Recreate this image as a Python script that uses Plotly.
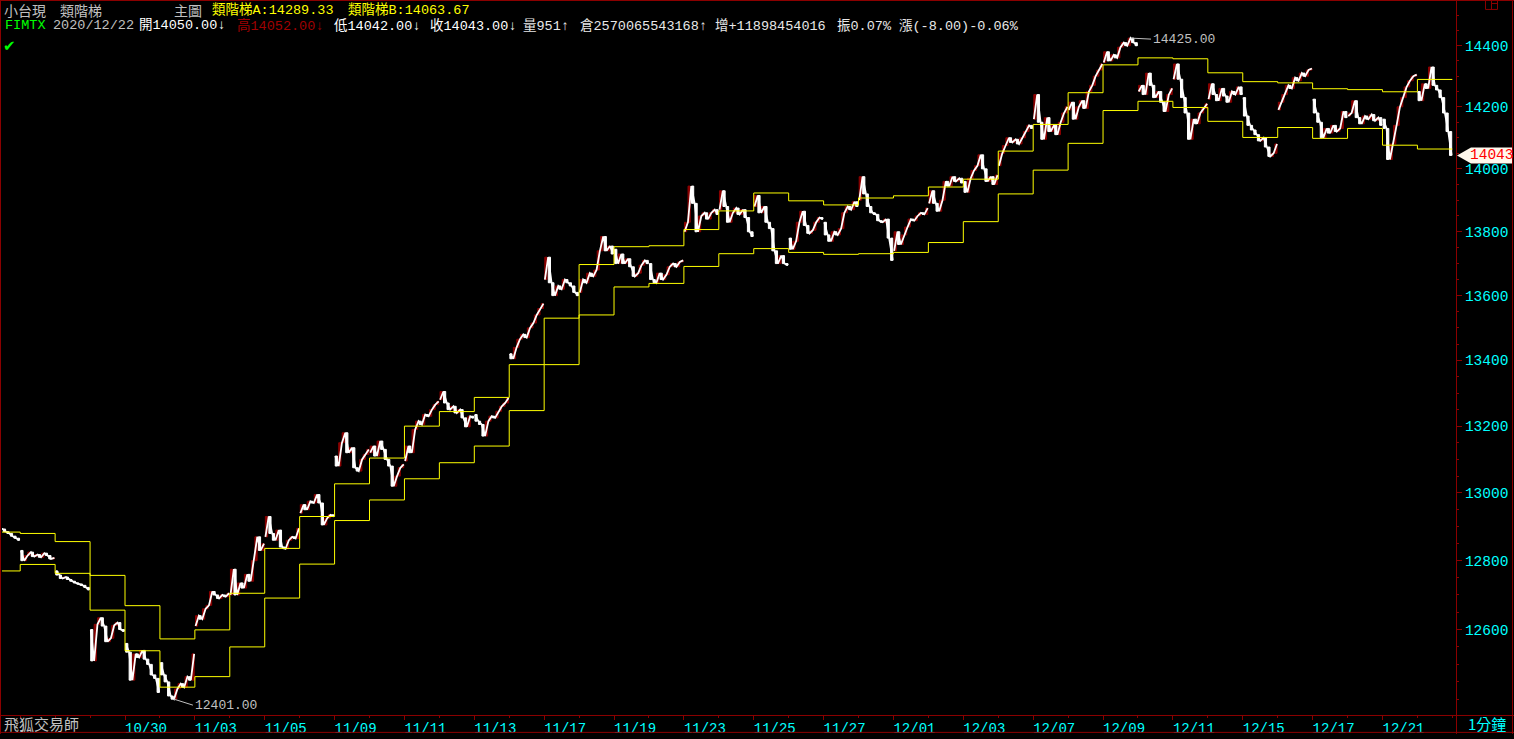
import numpy as np
import plotly.graph_objects as go

# ---------------- data ----------------
day_labels = ["10/26", "10/27", "10/28", "10/29", "10/30", "11/02", "11/03", "11/04", "11/05", "11/06",
              "11/09", "11/10", "11/11", "11/12", "11/13", "11/16", "11/17", "11/18", "11/19", "11/20",
              "11/23", "11/24", "11/25", "11/26", "11/27", "11/30", "12/01", "12/02", "12/03", "12/04",
              "12/07", "12/08", "12/09", "12/10", "12/11", "12/14", "12/15", "12/16", "12/17", "12/18",
              "12/21", "12/22"]

# price path within each trading day (sampled roughly every 30 minutes)
intraday_prices = [
    [12900, 12905, 12898, 12902, 12895, 12893, 12885, 12880, 12872, 12866, 12860],
    [12830, 12800, 12815, 12825, 12812, 12818, 12810, 12822, 12815, 12805, 12808],
    [12770, 12758, 12748, 12752, 12745, 12740, 12735, 12732, 12728, 12722, 12715],
    [12600, 12510, 12615, 12634, 12610, 12565, 12575, 12612, 12620, 12600, 12595],
    [12560, 12535, 12455, 12530, 12520, 12540, 12515, 12500, 12470, 12460, 12420],
    [12505, 12470, 12450, 12410, 12401, 12430, 12445, 12435, 12465, 12455, 12530],
    [12610, 12640, 12630, 12660, 12670, 12710, 12700, 12690, 12700, 12695, 12705],
    [12700, 12775, 12700, 12735, 12720, 12760, 12740, 12800, 12870, 12830, 12850],
    [12870, 12930, 12880, 12860, 12890, 12840, 12835, 12860, 12870, 12865, 12895],
    [12940, 12965, 12950, 12975, 12970, 12995, 12970, 12905, 12925, 12935, 12930],
    [13110, 13080, 13150, 13180, 13120, 13135, 13075, 13065, 13100, 13115, 13130],
    [13120, 13140, 13110, 13155, 13130, 13100, 13080, 13020, 13050, 13075, 13085],
    [13095, 13140, 13120, 13190, 13215, 13205, 13235, 13230, 13250, 13265, 13275],
    [13280, 13305, 13270, 13250, 13260, 13240, 13250, 13225, 13198, 13230, 13225],
    [13235, 13215, 13205, 13170, 13215, 13230, 13225, 13245, 13260, 13270, 13285],
    [13420, 13405, 13440, 13465, 13480, 13470, 13500, 13515, 13540, 13560, 13575],
    [13650, 13720, 13640, 13600, 13630, 13620, 13650, 13640, 13630, 13610, 13600],
    [13610, 13650, 13640, 13670, 13660, 13680, 13740, 13785, 13740, 13755, 13730],
    [13745, 13700, 13730, 13700, 13715, 13690, 13660, 13670, 13695, 13710, 13700],
    [13700, 13650, 13640, 13670, 13650, 13665, 13690, 13700, 13690, 13705, 13710],
    [13800, 13830, 13945, 13890, 13800, 13850, 13860, 13840, 13860, 13870, 13855],
    [13870, 13930, 13880, 13830, 13860, 13875, 13855, 13870, 13845, 13800, 13785],
    [13880, 13915, 13860, 13880, 13830, 13810, 13740, 13700, 13725, 13700, 13695],
    [13780, 13745, 13770, 13830, 13865, 13820, 13795, 13805, 13830, 13845, 13840],
    [13830, 13790, 13770, 13800, 13790, 13810, 13860, 13880, 13870, 13895, 13880],
    [13900, 13975, 13920, 13880, 13860, 13855, 13835, 13830, 13840, 13780, 13710],
    [13740, 13800, 13760, 13790, 13815, 13840, 13835, 13850, 13860, 13855, 13875],
    [13890, 13930, 13890, 13865, 13900, 13960, 13945, 13975, 13960, 13970, 13955],
    [13960, 13925, 13970, 13995, 14010, 14045, 14000, 13960, 13975, 13950, 13980],
    [14010, 14050, 14075, 14100, 14085, 14095, 14080, 14100, 14120, 14140, 14130],
    [14160, 14240, 14150, 14095, 14165, 14120, 14140, 14110, 14150, 14180, 14200],
    [14190, 14215, 14160, 14200, 14220, 14195, 14250, 14270, 14300, 14320, 14340],
    [14345, 14380, 14350, 14370, 14360, 14395, 14410, 14400, 14425, 14410, 14400],
    [14250, 14270, 14240, 14310, 14270, 14230, 14250, 14215, 14185, 14240, 14260],
    [14290, 14340, 14290, 14230, 14180, 14095, 14160, 14145, 14180, 14195, 14210],
    [14225, 14275, 14240, 14220, 14260, 14235, 14215, 14250, 14240, 14265, 14240],
    [14230, 14170, 14140, 14125, 14110, 14090, 14100, 14070, 14040, 14050, 14080],
    [14190, 14215, 14240, 14270, 14260, 14295, 14285, 14310, 14300, 14320, 14325],
    [14225, 14180, 14150, 14100, 14130, 14115, 14140, 14120, 14130, 14185, 14165],
    [14170, 14180, 14220, 14165, 14145, 14170, 14160, 14175, 14155, 14165, 14140],
    [14160, 14130, 14030, 14080, 14140, 14200, 14230, 14265, 14285, 14300, 14305],
    [14250, 14220, 14275, 14260, 14330, 14270, 14255, 14230, 14180, 14120, 14043],
]

# 類階梯 A (upper) / B (lower) daily step values
ladder_a = [12884, 12880, 12856, 12757, 12669, 12573, 12599, 12705, 12836, 12930,
            13027, 13104, 13200, 13244, 13287, 13387, 13530, 13697, 13753, 13756,
            13807, 13866, 13923, 13898, 13885, 13907, 13914, 13942, 13967, 14057,
            14143, 14246, 14337, 14360, 14357, 14311, 14282, 14278, 14259, 14256,
            14249, 14289.33]
ladder_b = [12770, 12789, 12763, 12656, 12539, 12435, 12465, 12550, 12691, 12790,
            12918, 12979, 13042, 13090, 13140, 13247, 13387, 13540, 13627, 13638,
            13691, 13731, 13747, 13735, 13729, 13731, 13735, 13766, 13832, 13920,
            13996, 14082, 14188, 14218, 14198, 14153, 14101, 14133, 14098, 14130,
            14076, 14063.67]

tick_days = ["10/30", "11/03", "11/05", "11/09", "11/11", "11/13", "11/17", "11/19", "11/23",
             "11/25", "11/27", "12/01", "12/03", "12/07", "12/09", "12/11", "12/15", "12/17", "12/21"]
price_ticks = [12600, 12800, 13000, 13200, 13400, 13600, 13800, 14000, 14200, 14400]
price_minor = list(range(12350, 14551, 50))

# ---------------- colours / fonts ----------------
BG = "#000000"
FRAME = "#8B0000"
UP = "#8B0000"
DOWN = "#FFFFFF"
LADDER = "#FFFF00"
CYAN = "#00FFFF"
GRAY = "#C0C0C0"
MONO = "Liberation Mono, Noto Sans CJK TC, monospace"
CJK = "Noto Sans CJK TC, Liberation Mono, sans-serif"

W, H = 1514, 739
ML, MR, MT, MB = 2, 58, 2, 19
PW, PH = W - ML - MR, H - MT - MB


def pxx(p):  # page pixel -> paper x
    return (p - ML) / PW


def pxy(p):  # page pixel -> paper y
    return (H - MB - p) / PH


# ---------------- build bars ----------------
bars_per_day = len(intraday_prices[0]) - 1
bx, bo, bh, bl, bc = [], [], [], [], []
px_line, py_line = [], []
for k, row in enumerate(intraday_prices):
    for i in range(bars_per_day):
        o, c = row[i], row[i + 1]
        bx.append(k + (i + 0.5) / bars_per_day)
        bo.append(o)
        bc.append(c)
        bh.append(max(o, c))
        bl.append(min(o, c))
    for i, v in enumerate(row):
        px_line.append(k + 0.02 + 0.96 * i / bars_per_day)
        py_line.append(v)
    px_line.append(None)
    py_line.append(None)

fig = go.Figure()

fig.add_trace(go.Scatter(x=px_line, y=py_line, mode="lines", line=dict(color=DOWN, width=1.8),
                         hoverinfo="skip", name="path", connectgaps=False))
fig.add_trace(go.Candlestick(
    x=bx, open=bo, high=bh, low=bl, close=bc,
    increasing=dict(line=dict(color=UP, width=1), fillcolor=UP),
    decreasing=dict(line=dict(color=DOWN, width=1), fillcolor=DOWN),
    whiskerwidth=0, hoverinfo="skip", name="小台現"))

step_x = list(range(len(day_labels))) + [len(day_labels)]
for name, vals in (("類階梯A", ladder_a), ("類階梯B", ladder_b)):
    fig.add_trace(go.Scatter(
        x=step_x, y=vals + [vals[-1]], mode="lines", line=dict(color=LADDER, width=1, shape="hv"),
        hoverinfo="skip", name=name))

# ---------------- axes ----------------
x_left = (ML - 125) / 34.93 + 4
x_right = (W - MR - 125) / 34.93 + 4
fig.update_xaxes(
    range=[x_left, x_right], showgrid=False, zeroline=False, showline=False,
    rangeslider=dict(visible=False),
    tickmode="array", tickvals=[day_labels.index(d) for d in tick_days], ticktext=tick_days,
    ticks="outside", ticklen=4, tickwidth=1, tickcolor=FRAME,
    tickfont=dict(family=MONO, size=14, color=CYAN), ticklabelshift=21, ticklabelstandoff=-4,
    minor=dict(tickmode="linear", tick0=0, dtick=1, ticks="outside", ticklen=2, tickcolor=FRAME),
)
y_lo = np.log10(14400 * np.exp(-674 / 4403))
y_hi = np.log10(14400 * np.exp(44 / 4403))
fig.update_yaxes(
    type="log", side="right", range=[y_lo, y_hi],
    showgrid=False, zeroline=False, showline=False,
    tickmode="array", tickvals=price_ticks, ticktext=[str(v) for v in price_ticks],
    ticks="outside", ticklen=5, tickwidth=1, tickcolor=FRAME,
    tickfont=dict(family=MONO, size=14.5, color=CYAN),
    minor=dict(tickmode="array", tickvals=price_minor, ticks="outside", ticklen=2, tickcolor=FRAME),
)

# ---------------- frame ----------------
shapes = []
def hline(py, x0=0, x1=W):
    shapes.append(dict(type="line", xref="paper", yref="paper", x0=pxx(x0), x1=pxx(x1),
                       y0=pxy(py), y1=pxy(py), line=dict(color=FRAME, width=1), layer="above"))
def vline(px, y0=0, y1=H):
    shapes.append(dict(type="line", xref="paper", yref="paper", x0=pxx(px), x1=pxx(px),
                       y0=pxy(y0), y1=pxy(y1), line=dict(color=FRAME, width=1), layer="above"))
hline(0.5)
hline(720.5)
hline(737.5)
vline(0.5)
vline(1456.5)
vline(1512.5)
# small window icon at top right
shapes.append(dict(type="rect", xref="paper", yref="paper", x0=pxx(1485.5), x1=pxx(1497.5),
                   y0=pxy(9.5), y1=pxy(0.5), line=dict(color=FRAME, width=1)))
vline(1491.5, 0.5, 9.5)
hline(3.5, 1491.5, 1497.5)

# last-price flag on the price axis (position from the axis' log range)
last_close = intraday_prices[-1][-1]
last_paper_y = (np.log10(last_close) - y_lo) / (y_hi - y_lo)
shapes.append(dict(type="path", xref="paper", yref="paper", xsizemode="pixel", ysizemode="pixel",
                   xanchor=1, yanchor=last_paper_y,
                   path="M 1 0 L 15 8 L 56 8 L 56 -8 L 15 -8 Z",
                   fillcolor="#FFF8EC", line=dict(width=0), layer="above"))

# ---------------- annotations ----------------
ann = []
def text(px, py, s, color, size=13.5, family=MONO):
    ann.append(dict(xref="paper", yref="paper", x=pxx(px), y=pxy(py), text=s, showarrow=False,
                    xanchor="left", yanchor="middle", font=dict(family=family, size=size, color=color)))

# header line 1
text(2, 10, "小台現", GRAY, 14, CJK)
text(58, 10, "類階梯", GRAY, 14, CJK)
text(172, 10, "主圖", GRAY, 14, CJK)
text(210, 10, "類階梯A:14289.33", LADDER)
text(346, 10, "類階梯B:14063.67", LADDER)
# header line 2
text(3, 26, "FIMTX", "#00FF00")
text(51, 26, "2020/12/22", GRAY)
text(137, 26, "開14050.00↓", "#FFFFFF")
text(235, 26, "高14052.00↓", "#A00000")
text(332, 26, "低14042.00↓", "#FFFFFF")
text(428, 26, "收14043.00↓", "#FFFFFF")
text(521, 26, "量951↑", "#E8E8E8")
text(578, 26, "倉2570065543168↑", "#E8E8E8")
text(713, 26, "增+11898454016", "#E8E8E8")
text(835, 26, "振0.07%", "#E8E8E8")
text(897, 26, "漲(-8.00)-0.06%", "#E8E8E8")
text(1, 46, "✔", "#00FF00", 15, "DejaVu Sans")
# bottom band
text(2, 729, "飛狐交易師", GRAY, 15, CJK)
text(1466, 729, "1分鐘", CYAN, 15, CJK)

# high / low labels
hi_idx = int(np.argmax(bc))
lo_idx = int(np.argmin(bc))
hi_val, lo_val = bc[hi_idx], bc[lo_idx]
ann.append(dict(x=bx[hi_idx] + 0.05, y=np.log10(hi_val), xref="x", yref="y", text=f"{hi_val:.2f}",
                showarrow=True, arrowhead=0, arrowwidth=1, arrowcolor=GRAY, ax=20, ay=1,
                xanchor="left", yanchor="middle", font=dict(family=MONO, size=13, color=GRAY)))
ann.append(dict(x=bx[lo_idx] + 0.05, y=np.log10(lo_val), xref="x", yref="y", text=f"{lo_val:.2f}",
                showarrow=True, arrowhead=0, arrowwidth=1, arrowcolor=GRAY, ax=19, ay=6,
                xanchor="left", yanchor="middle", font=dict(family=MONO, size=13, color=GRAY)))
# last price flag text
ann.append(dict(x=1, y=last_paper_y, xref="paper", yref="paper", text=f"{last_close}",
                showarrow=False, xanchor="left", yanchor="middle", xshift=12,
                font=dict(family=MONO, size=14.5, color="#FF0000")))

fig.update_layout(
    width=W, height=H, autosize=False,
    margin=dict(l=ML, r=MR, t=MT, b=MB, pad=0),
    paper_bgcolor=BG, plot_bgcolor=BG, showlegend=False,
    shapes=shapes, annotations=ann,
    hovermode=False, boxgap=0.1,
)

fig.write_html("out.html", config={"displayModeBar": False}, post_script=(
    "document.body.style.margin='0';document.body.style.padding='0';"
    "document.body.style.overflow='hidden';document.documentElement.style.overflow='hidden';"))
